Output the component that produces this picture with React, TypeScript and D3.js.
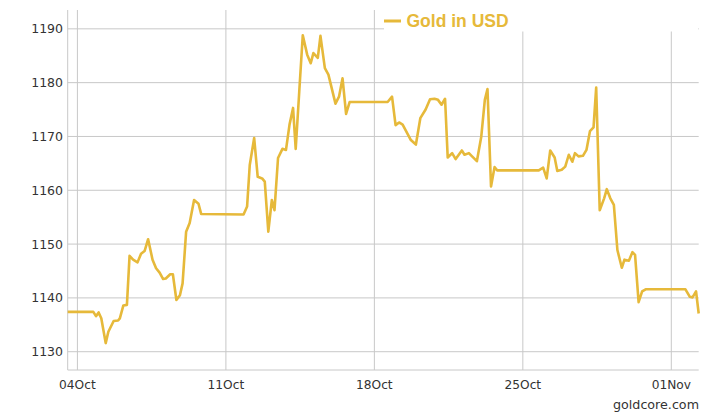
import React from "react";
import * as d3 from "d3";

// hours after 2015-10-04 00:00 UTC
const hours = [-11,18,21,24,27,32,35,41,46,48,52,56,59,63,68,72,76,80,85,89,93,97,100,105,108,112,116,119,123,127,132,137,140,188,192,195,200,204,209,212,216,220,223,227,232,236,240,244,247,251,255,260,264,267,272,275,280,284,292,296,300,304,308,351,356,360,364,368,377,383,388,394,399,404,408,412,416,419,424,428,435,438,443,446,452,457,461,464,468,472,475,522,527,531,535,540,543,548,552,556,560,563,567,572,576,580,584,587,591,596,599,603,607,611,616,619,624,628,631,635,639,643,688,693,696,700,703];
const prices = [1137.4,1137.4,1136.6,1137.3,1136.2,1131.6,1133.7,1135.7,1135.8,1136.2,1138.6,1138.7,1147.8,1147.1,1146.6,1148.2,1148.7,1150.9,1147.1,1145.5,1144.7,1143.5,1143.6,1144.4,1144.4,1139.6,1140.5,1142.7,1152.3,1153.9,1158.2,1157.5,1155.6,1155.5,1157.0,1164.7,1169.7,1162.5,1162.2,1161.6,1152.3,1158.2,1156.3,1166.0,1167.7,1167.5,1172.2,1175.3,1167.7,1178.3,1188.8,1185.2,1183.6,1185.5,1184.6,1188.7,1182.7,1181.5,1176.1,1177.4,1180.8,1174.2,1176.4,1176.4,1177.4,1172.1,1172.6,1172.2,1169.4,1168.5,1173.4,1175.0,1176.9,1177.0,1176.8,1175.9,1177.0,1166.1,1166.9,1165.8,1167.4,1166.6,1166.9,1166.4,1165.4,1170.0,1176.8,1178.8,1160.7,1164.3,1163.7,1163.7,1164.2,1162.2,1167.4,1166.1,1163.6,1163.8,1164.4,1166.6,1165.3,1166.9,1166.3,1166.4,1167.5,1171.0,1171.7,1179.1,1156.3,1158.5,1160.2,1158.5,1157.3,1148.9,1145.6,1147.1,1146.9,1148.5,1148.0,1139.2,1141.2,1141.6,1141.6,1140.2,1140.1,1141.2,1137.1];
const xTickDates = ["2015-10-04", "2015-10-11", "2015-10-18", "2015-10-25", "2015-11-01"];
const yTicks = [1130, 1140, 1150, 1160, 1170, 1180, 1190];
const seriesName = "Gold in USD";
const credit = "goldcore.com";

const W = 714, H = 420;
const left = 67.7, right = 698.7, top = 10, bottom = 370;
const GOLD = "#e6b93a";
const GRID = "#c8c8c8";
const FONT = "'DejaVu Sans', Verdana, sans-serif";
const LFONT = "'Liberation Sans', Arial, sans-serif";

const t0 = Date.UTC(2015, 9, 4);
const data = hours.map((h, i) => ({ date: new Date(t0 + h * 3600e3), value: prices[i] }));

export default function App() {
  const x = d3.scaleUtc()
    .domain([data[0].date, data[data.length - 1].date])
    .range([left, right]);
  const y = d3.scaleLinear().domain([1126.6, 1193.5]).range([bottom, top]);
  const line = d3.line<any>().x(d => x(d.date)).y(d => y(d.value));
  const fmt = d3.utcFormat("%d%b");
  const ticks = xTickDates.map(s => new Date(s + "T00:00:00Z"));

  return (
    <svg width={W} height={H} style={{ position: "absolute", left: 0, top: 0, background: "#fff" }}>
      {yTicks.map(v => (
        <line key={"h" + v} x1={left} x2={right} y1={y(v)} y2={y(v)} stroke={GRID} strokeWidth={1} />
      ))}
      {ticks.map((d, i) => (
        <line key={"v" + i} x1={x(d)} x2={x(d)} y1={top} y2={bottom} stroke={GRID} strokeWidth={1} />
      ))}
      <line x1={left} x2={left} y1={top} y2={bottom} stroke={GRID} strokeWidth={1} />
      <line x1={left} x2={right} y1={bottom} y2={bottom} stroke={GRID} strokeWidth={1} />
      {yTicks.map(v => (
        <text key={"yl" + v} x={63} y={y(v)} dy="0.36em" textAnchor="end" fontFamily={FONT} fontSize={12.5} fill="#333">{v}</text>
      ))}
      {ticks.map((d, i) => (
        <text key={"xl" + i} x={x(d)} y={389} textAnchor="middle" fontFamily={FONT} fontSize={12.2} fill="#333">{fmt(d)}</text>
      ))}
      <rect x={384} y={0} width={314} height={31.5} fill="#fff" />
      <path d={line(data) || ""} fill="none" stroke={GOLD} strokeWidth={2.6} strokeLinejoin="round" />
      <line x1={384} x2={401} y1={21} y2={21} stroke={GOLD} strokeWidth={3} />
      <text x={406.5} y={27} fontFamily={LFONT} fontWeight="bold" fontSize={17.5} fill={GOLD}>{seriesName}</text>
      <text x={699} y={409} textAnchor="end" fontFamily={FONT} fontSize={12.7} fill="#333">{credit}</text>
    </svg>
  );
}
